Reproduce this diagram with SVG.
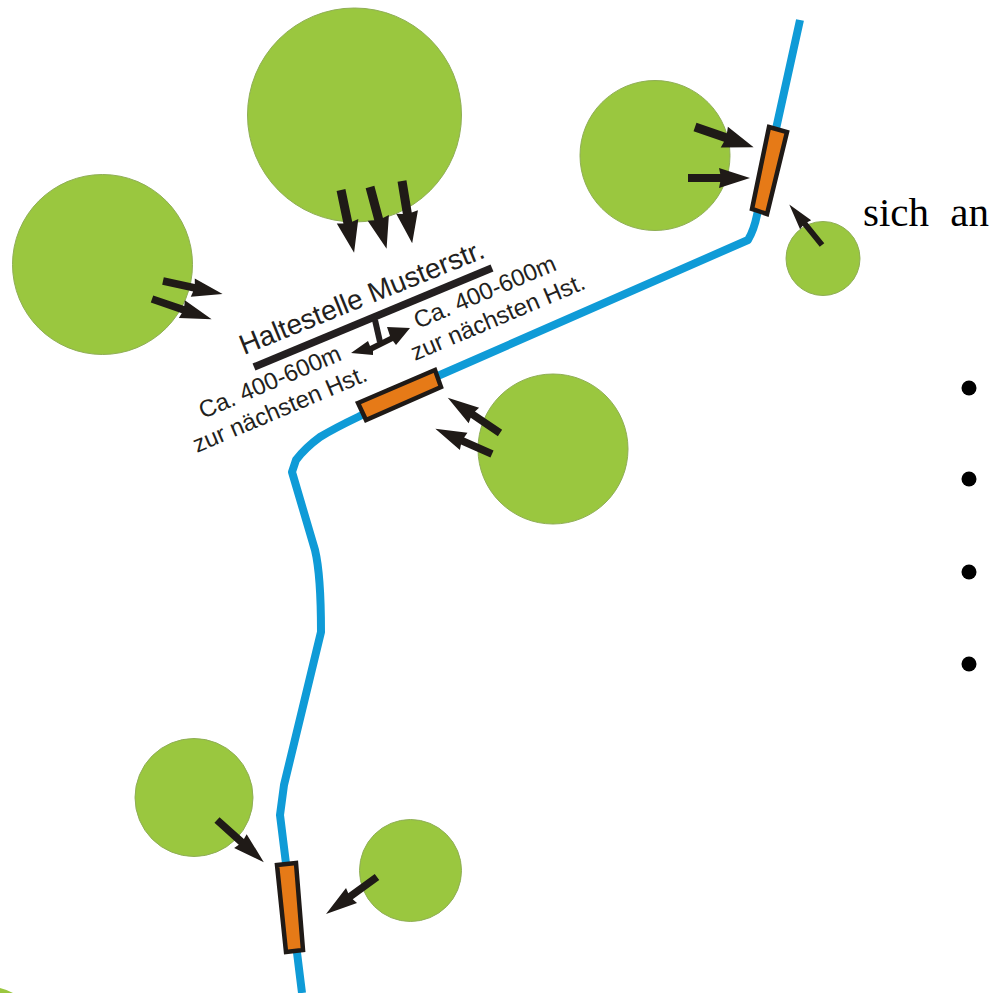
<svg xmlns="http://www.w3.org/2000/svg" width="994" height="993" viewBox="0 0 994 993">
<style>
.c{fill:#9ac73f;stroke:#8fae55;stroke-width:1}
.s{fill:#e67a17;stroke:#1f1a17;stroke-width:4.5}
.a{fill:#1f1a17}
.l{font-family:"Liberation Sans",Arial,sans-serif;fill:#231f20}
.t{font-family:"Liberation Serif","Times New Roman",serif;fill:#000}
</style>
<defs><path id="arr" d="M0,-4.500 L52,-4.500 L50,-11 L100,0 L50,11 L52,4.500 L0,4.500Z"/></defs>
<rect width="994" height="993" fill="#fff"/>
<g id="areas">
<circle id="area-top" class="c" cx="354.500" cy="115" r="107"/>
<circle id="area-left" class="c" cx="102.500" cy="264.500" r="90"/>
<circle id="area-right" class="c" cx="655" cy="155.500" r="75"/>
<circle id="area-small" class="c" cx="823" cy="258.500" r="37"/>
<circle id="area-mid" class="c" cx="553" cy="449" r="75"/>
<circle id="area-bl" class="c" cx="194" cy="797.500" r="59"/>
<circle id="area-br" class="c" cx="410.500" cy="870.500" r="51"/>
</g>
<g id="connectors">
<path id="route" d="M800,20 L757,215 Q754,230 748,240 L440,375 L358,417 Q335,428 320,437 Q305,448 296,460 L292,472 L315,550 Q321,575 321,632 L284,785 L280,815 L302,993" fill="none" stroke="#0f9bd7" stroke-width="8" stroke-linejoin="round"/>
<g class="a">
<use href="#arr" transform="translate(341,190) rotate(78.200) scale(.64,1)"/>
<use href="#arr" transform="translate(370,187) rotate(75) scale(.64,1)"/>
<use href="#arr" transform="translate(402,181) rotate(80.700) scale(.63,1)"/>
<use href="#arr" transform="translate(163,281) rotate(12.400) scale(.61,.85)"/>
<use href="#arr" transform="translate(152,299) rotate(18.700) scale(.63,.85)"/>
<use href="#arr" transform="translate(695,127) rotate(19) scale(.62,1)"/>
<use href="#arr" transform="translate(688,178) rotate(0) scale(.62,.9)"/>
<use href="#arr" transform="translate(822,245) rotate(-129) scale(.52,.65)"/>
<use href="#arr" transform="translate(500,433) rotate(-146) scale(.63,.85)"/>
<use href="#arr" transform="translate(492,454) rotate(-156) scale(.62,.85)"/>
<use href="#arr" transform="translate(217,820) rotate(42) scale(.63,.85)"/>
<use href="#arr" transform="translate(377,877) rotate(144) scale(.63,.85)"/>
</g>
</g>
<g id="stop-top"><polygon class="s" points="769,127 787,132 767,214 752,209"/></g>
<g id="stop-mid"><polygon class="s" points="358,403 435,370 441,387 366,420"/></g>
<g id="stop-bottom"><polygon class="s" points="277,865 296,863 303,950 286,952"/></g>
<g id="sign">
<path d="M254,367 L492,268" stroke="#231f20" stroke-width="7.500" fill="none"/>
<path d="M375,320 L380,342" stroke="#231f20" stroke-width="6" fill="none"/>
<path class="a" d="M351,353 L368,341 L370,346 L390,336 L387,327 L410,328 L396,345 L393,341 L373,351 L373,355Z"/>
<text class="l" font-size="28" transform="translate(244,355) rotate(-22)">Haltestelle Musterstr.</text>
<text class="l" font-size="24" transform="translate(203,419) rotate(-23)">Ca. 400-600m</text>
<text class="l" font-size="24" transform="translate(197,453) rotate(-23)">zur nächsten Hst.</text>
<text class="l" font-size="24" transform="translate(418,329) rotate(-23)">Ca. 400-600m</text>
<text class="l" font-size="24" transform="translate(415,361) rotate(-23)">zur nächsten Hst.</text>
</g>
<g id="page">
<text class="t" x="863" y="226" font-size="41" word-spacing="11">sich an</text>
<circle cx="969" cy="388" r="7.500"/>
<circle cx="969" cy="479" r="7.500"/>
<circle cx="969" cy="572" r="7.500"/>
<circle cx="969" cy="664" r="7.500"/>
<path d="M0,988 Q8,990 13,993 L0,993Z" fill="#9ac73f"/>
</g>
</svg>
